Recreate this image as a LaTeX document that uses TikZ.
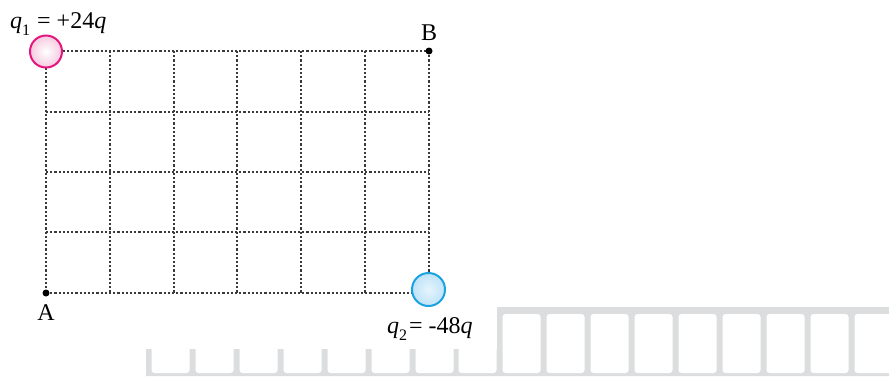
\documentclass[tikz,border=0pt]{standalone}
\usepackage{fontspec}
\setmainfont{Liberation Serif}
\definecolor{gridc}{HTML}{3A3A3A}
\definecolor{pinkedge}{HTML}{E5177E}
\definecolor{pinkfill}{HTML}{F6C9DF}
\definecolor{blueedge}{HTML}{1AA3E0}
\definecolor{bluefill}{HTML}{BFE3F8}
\definecolor{combgray}{HTML}{DCDDDE}
\tikzset{
  gridline/.style={gridc, line width=1.3pt, dash pattern=on 2.2pt off 2pt},
  pointdot/.style={circle, fill=black, inner sep=0pt, minimum size=7pt},
  lbl/.style={font=\fontsize{24pt}{28pt}\selectfont, inner sep=0pt},
}
\newcommand{\sublow}[1]{\raisebox{-0.32em}{\fontsize{16pt}{18pt}\selectfont #1}}
\begin{document}
\begin{tikzpicture}[x=1pt,y=-1pt]
\useasboundingbox (0,0) rectangle (889,376);
% grey comb at the bottom
\fill[combgray] (146,349) -- (497,349) -- (497,307) -- (889,307) -- (889,376) -- (146,376) -- cycle;
\foreach \x in {146,190,234,278,322,366,410,453} {
  \fill[white, rounded corners=3pt] (\x+5.5,340) rectangle (\x+43.5,373);
}
\foreach \x in {497,541,585,629,673,717,761,805,849} {
  \fill[white, rounded corners=3pt] (\x+5.5,314) rectangle (\x+43.5,373);
}
% grid
\foreach \x in {46,110,174,237,301,365,429} {
  \draw[gridline] (\x,51) -- (\x,293);
}
\foreach \y in {51,112,172,232,293} {
  \draw[gridline] (46,\y) -- (429,\y);
}
% charges
\shade[inner color=white, outer color=pinkfill] (46,51.5) circle (16);
\draw[pinkedge, line width=2pt] (46,51.5) circle (16);
\node[circle, minimum size=32pt, inner sep=0pt] (q1) at (46,51.5) {};
\shade[inner color=white!60!bluefill, outer color=bluefill] (428.5,289.5) circle (16.5);
\draw[blueedge, line width=2pt] (428.5,289.5) circle (16.5);
\node[circle, minimum size=33pt, inner sep=0pt] (q2) at (428.5,289.5) {};
% points
\node[pointdot] (B) at (429,51) {};
\node[pointdot] (A) at (46,293) {};
% labels
\node[lbl, anchor=base west] (q1lbl) at (10,28) {\textit{q}\sublow{1}\kern1pt{} = +24\textit{q}};
\node[lbl, anchor=base west] (q2lbl) at (387,333) {\textit{q}\sublow{2}\kern2pt= -48\textit{q}};
\node[lbl, anchor=base] (Blbl) at (429,40) {B};
\node[lbl, anchor=base] (Albl) at (46,320) {A};
\end{tikzpicture}
\end{document}
